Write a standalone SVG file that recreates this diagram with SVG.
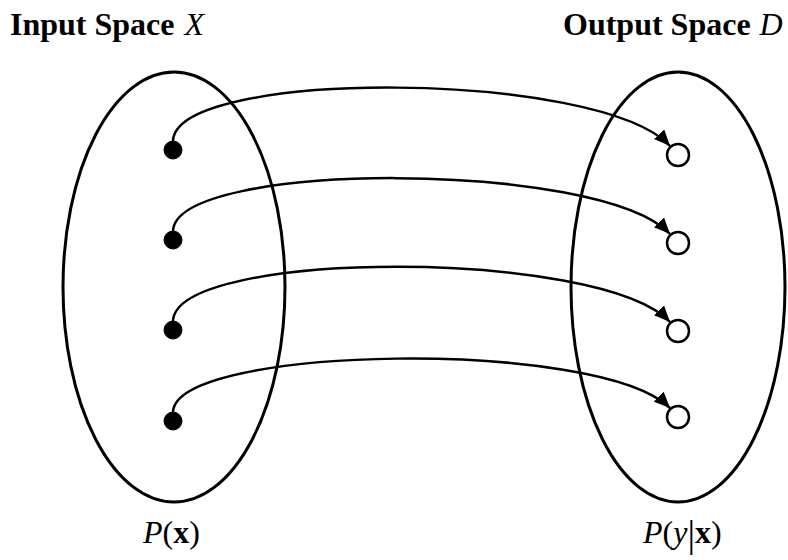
<svg xmlns="http://www.w3.org/2000/svg" width="788" height="560" viewBox="0 0 788 560">
<style>
.sp{fill:none;stroke:#000;stroke-width:3}
.ar{fill:none;stroke:#000;stroke-width:2.5}
.src{fill:#000;stroke:#000;stroke-width:1}
.dst{fill:#fff;stroke:#000;stroke-width:2.5}
text{font-family:"Liberation Serif","Times New Roman",serif;fill:#000}
.b{font-weight:bold}
.i{font-style:italic}
</style>
<defs>
<marker id="ah" markerUnits="userSpaceOnUse" markerWidth="18" markerHeight="14" refX="16" refY="7" orient="auto">
<path d="M0,0 L16,7 L0,14 Z" fill="#000"/>
</marker>
</defs>
<rect width="788" height="560" fill="#fff"/>
<g id="input-space">
<ellipse class="sp" cx="174" cy="287" rx="111" ry="215"/>
<text x="10" y="35" font-size="32"><tspan class="b">Input Space</tspan><tspan class="i" dx="10">X</tspan></text>
<text x="143" y="543" font-size="32"><tspan class="i">P</tspan>(<tspan class="b">x</tspan>)</text>
</g>
<g id="output-space">
<ellipse class="sp" cx="678" cy="287" rx="107" ry="215"/>
<text x="563" y="35" font-size="32"><tspan class="b">Output Space</tspan><tspan class="i" dx="9">D</tspan></text>
<text x="643" y="543" font-size="32"><tspan class="i">P</tspan>(<tspan class="i">y</tspan><tspan font-size="38" dy="4">|</tspan><tspan class="b" dy="-4">x</tspan>)</text>
</g>
<g id="inputs">
<circle id="x1" class="src" cx="173" cy="150" r="9"/>
<circle id="x2" class="src" cx="173" cy="240" r="9"/>
<circle id="x3" class="src" cx="173" cy="330" r="9"/>
<circle id="x4" class="src" cx="173" cy="421" r="9"/>
</g>
<g id="outputs">
<circle id="y1" class="dst" cx="678" cy="155" r="11"/>
<circle id="y2" class="dst" cx="678" cy="243" r="11"/>
<circle id="y3" class="dst" cx="678" cy="331" r="11"/>
<circle id="y4" class="dst" cx="678" cy="417" r="11"/>
</g>
<g id="connectors">
<path class="ar" marker-end="url(#ah)" d="M173,141 C176,68 600,70 670,146"/>
<path class="ar" marker-end="url(#ah)" d="M173,231 C176,160 600,160 670,234"/>
<path class="ar" marker-end="url(#ah)" d="M173,321 C176,249 600,248 670,322"/>
<path class="ar" marker-end="url(#ah)" d="M173,412 C176,345 600,338 670,408"/>
</g>
</svg>
